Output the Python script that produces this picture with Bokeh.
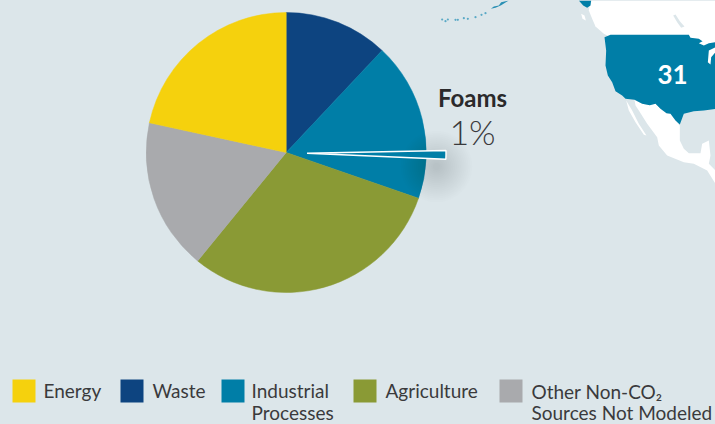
import math
from bokeh.plotting import figure
from bokeh.embed import file_html
from bokeh.resources import INLINE
from bokeh.core.properties import value

categories = ["Waste", "Industrial Processes", "Agriculture", "Other Non-CO2 Sources Not Modeled", "Energy"]
shares = [12.0, 18.3, 30.6, 17.5, 21.6]
colors = ["#0d4480", "#007ea7", "#8a9a35", "#a9aaad", "#f5d10d"]
foam_share = [1.0]
BG = "#dce6ea"
TEAL = "#007ea7"
TXT = "#3a3a3c"

legend_labels = [["Energy"], ["Waste"], ["Industrial", "Processes"], ["Agriculture"], ["Other Non-CO\u2082", "Sources Not Modeled"]]
legend_colors = ["#f5d10d", "#0d4480", "#007ea7", "#8a9a35", "#a9aaad"]
legend_x = [12, 120, 221, 353, 499]
legend_text_x = [43, 152, 251, 385, 531]

# map outlines (x, y from top-left of the page)
usa = [(132,110),(150,103),(385,103),(390,112),(415,115),(430,125),(465,120),(465,325),(430,330),(400,332),(370,340),(358,372),(345,360),(330,340),(318,338),(300,325),(285,310),(268,314),(245,310),(222,298),(195,295),(185,285),(165,272),(155,245),(142,225),(135,195),(137,150)]
canada = [(90,0),(465,0),(465,125),(150,110),(130,100),(105,78),(95,55),(85,30)]
mexico = [(222,298),(245,310),(268,314),(285,310),(300,325),(318,338),(330,340),(345,360),(358,375),(358,420),(370,445),(385,458),(420,458),(425,430),(445,420),(450,465),(445,490),(465,510),(465,550),(440,510),(400,490),(370,485),(320,465),(295,435),(290,410),(260,370),(235,330),(225,315)]
baja = [(197,300),(215,330),(235,370),(258,405),(250,403),(225,365),(205,330)]
island = [(62,40),(72,45),(76,60),(66,55)]
lakes = [(445,150),(465,140),(465,155),(452,170),(450,192),(442,185)]
lake_top = [(415,128),(440,115),(465,118),(465,125),(445,128),(430,135)]
canada_lakes = [(338,45),(345,42),(358,62),(372,78),(362,82),(350,65)]
alaska = [(55,0),(92,0),(90,15),(80,22),(68,15)]
aleutian = [(181,25),(190,18),(205,15),(212,5),(235,0),(225,6),(212,14),(195,22)]
aleutian_dots_x = [35, 45, 52, 75, 82, 100, 112, 135, 153, 165]
aleutian_dots_y = [57, 62, 57, 58, 58, 53, 55, 50, 43, 38]

W, H = 715, 424
p = figure(width=W, height=H, x_range=(0, 715), y_range=(0, 424), toolbar_location=None,
           output_backend="svg", min_border=0, background_fill_color=BG, border_fill_color=BG, outline_line_color=None)
p.axis.visible = False
p.grid.visible = False

Y = lambda py: 424 - py

def zoomed(shape, ox=560, oy=0):
    return [ox + a / 3 for a, _ in shape], [Y(oy + b / 3) for _, b in shape]

def label(x, base, t, size, color=TXT, font="Lato", style="normal", align="left"):
    p.text([x], [Y(base - 0.41 * size)], text=[t], text_color=color, text_font=value(font),
           text_font_style=style, text_font_size=f"{size}px", text_align=align, text_baseline="alphabetic")

# map
for shape, col in [(canada, "#ffffff"), (mexico, "#ffffff"), (baja, "#ffffff"), (island, "#ffffff"),
                   (usa, TEAL), (lakes, "#ffffff"), (lake_top, "#ffffff"), (canada_lakes, BG), (alaska, TEAL)]:
    xs, ys = zoomed(shape)
    p.patch(xs, ys, fill_color=col, line_color=None)
xs, ys = zoomed(aleutian, 430)
p.patch(xs, ys, fill_color="#2a90b4", line_color=None)
p.scatter([430 + a / 3 for a in aleutian_dots_x], [Y(b / 3) for b in aleutian_dots_y], size=2.2,
          fill_color="#5aa9c6", line_color=None)
label(672, 84.5, "31", 26, color="white", style="bold", align="center")

# pie: clockwise from 12 o'clock
cx, cy, r = 285.7, Y(152), 140
a = math.pi / 2
total = sum(shares)
for s, c in zip(shares, colors):
    b = a - 2 * math.pi * s / total
    p.wedge([cx], [cy], radius=r, start_angle=b, end_angle=a, fill_color=c, line_color=c, line_width=0.5)
    a = b

# soft shadow of the pulled-out slice
for i in range(18):
    p.circle([436], [Y(166)], radius=36 - 1.9 * i, fill_color="#20303a", fill_alpha=0.009, line_color=None)

# Foams slice
half = math.pi * foam_share[0] / 100
tilt = math.radians(-0.65)
p.wedge([306.5], [Y(152.8)], radius=139, start_angle=tilt - half, end_angle=tilt + half,
        fill_color=TEAL, line_color="white", line_width=1.4)

label(472, 106.7, "Foams", 24, color="#2b2a2b", style="bold", align="center")
label(472, 145, "1%", 34, font="Lato Light", align="center")

# legend
for labels, col, lx, tx in zip(legend_labels, legend_colors, legend_x, legend_text_x):
    p.quad(left=[lx], right=[lx + 23], top=[Y(379)], bottom=[Y(402)], fill_color=col, line_color=None)
    two = len(labels) > 1 and lx > 400
    for i, t in enumerate(labels):
        base = (399 if two else 398) + i * (21 if two else 21.5)
        label(tx, base, t, 19)

html = file_html(p, INLINE)
html = html.replace("</head>", "<style>html,body{background:%s;overflow:hidden}</style></head>" % BG, 1)
open("out.html", "w").write(html)
